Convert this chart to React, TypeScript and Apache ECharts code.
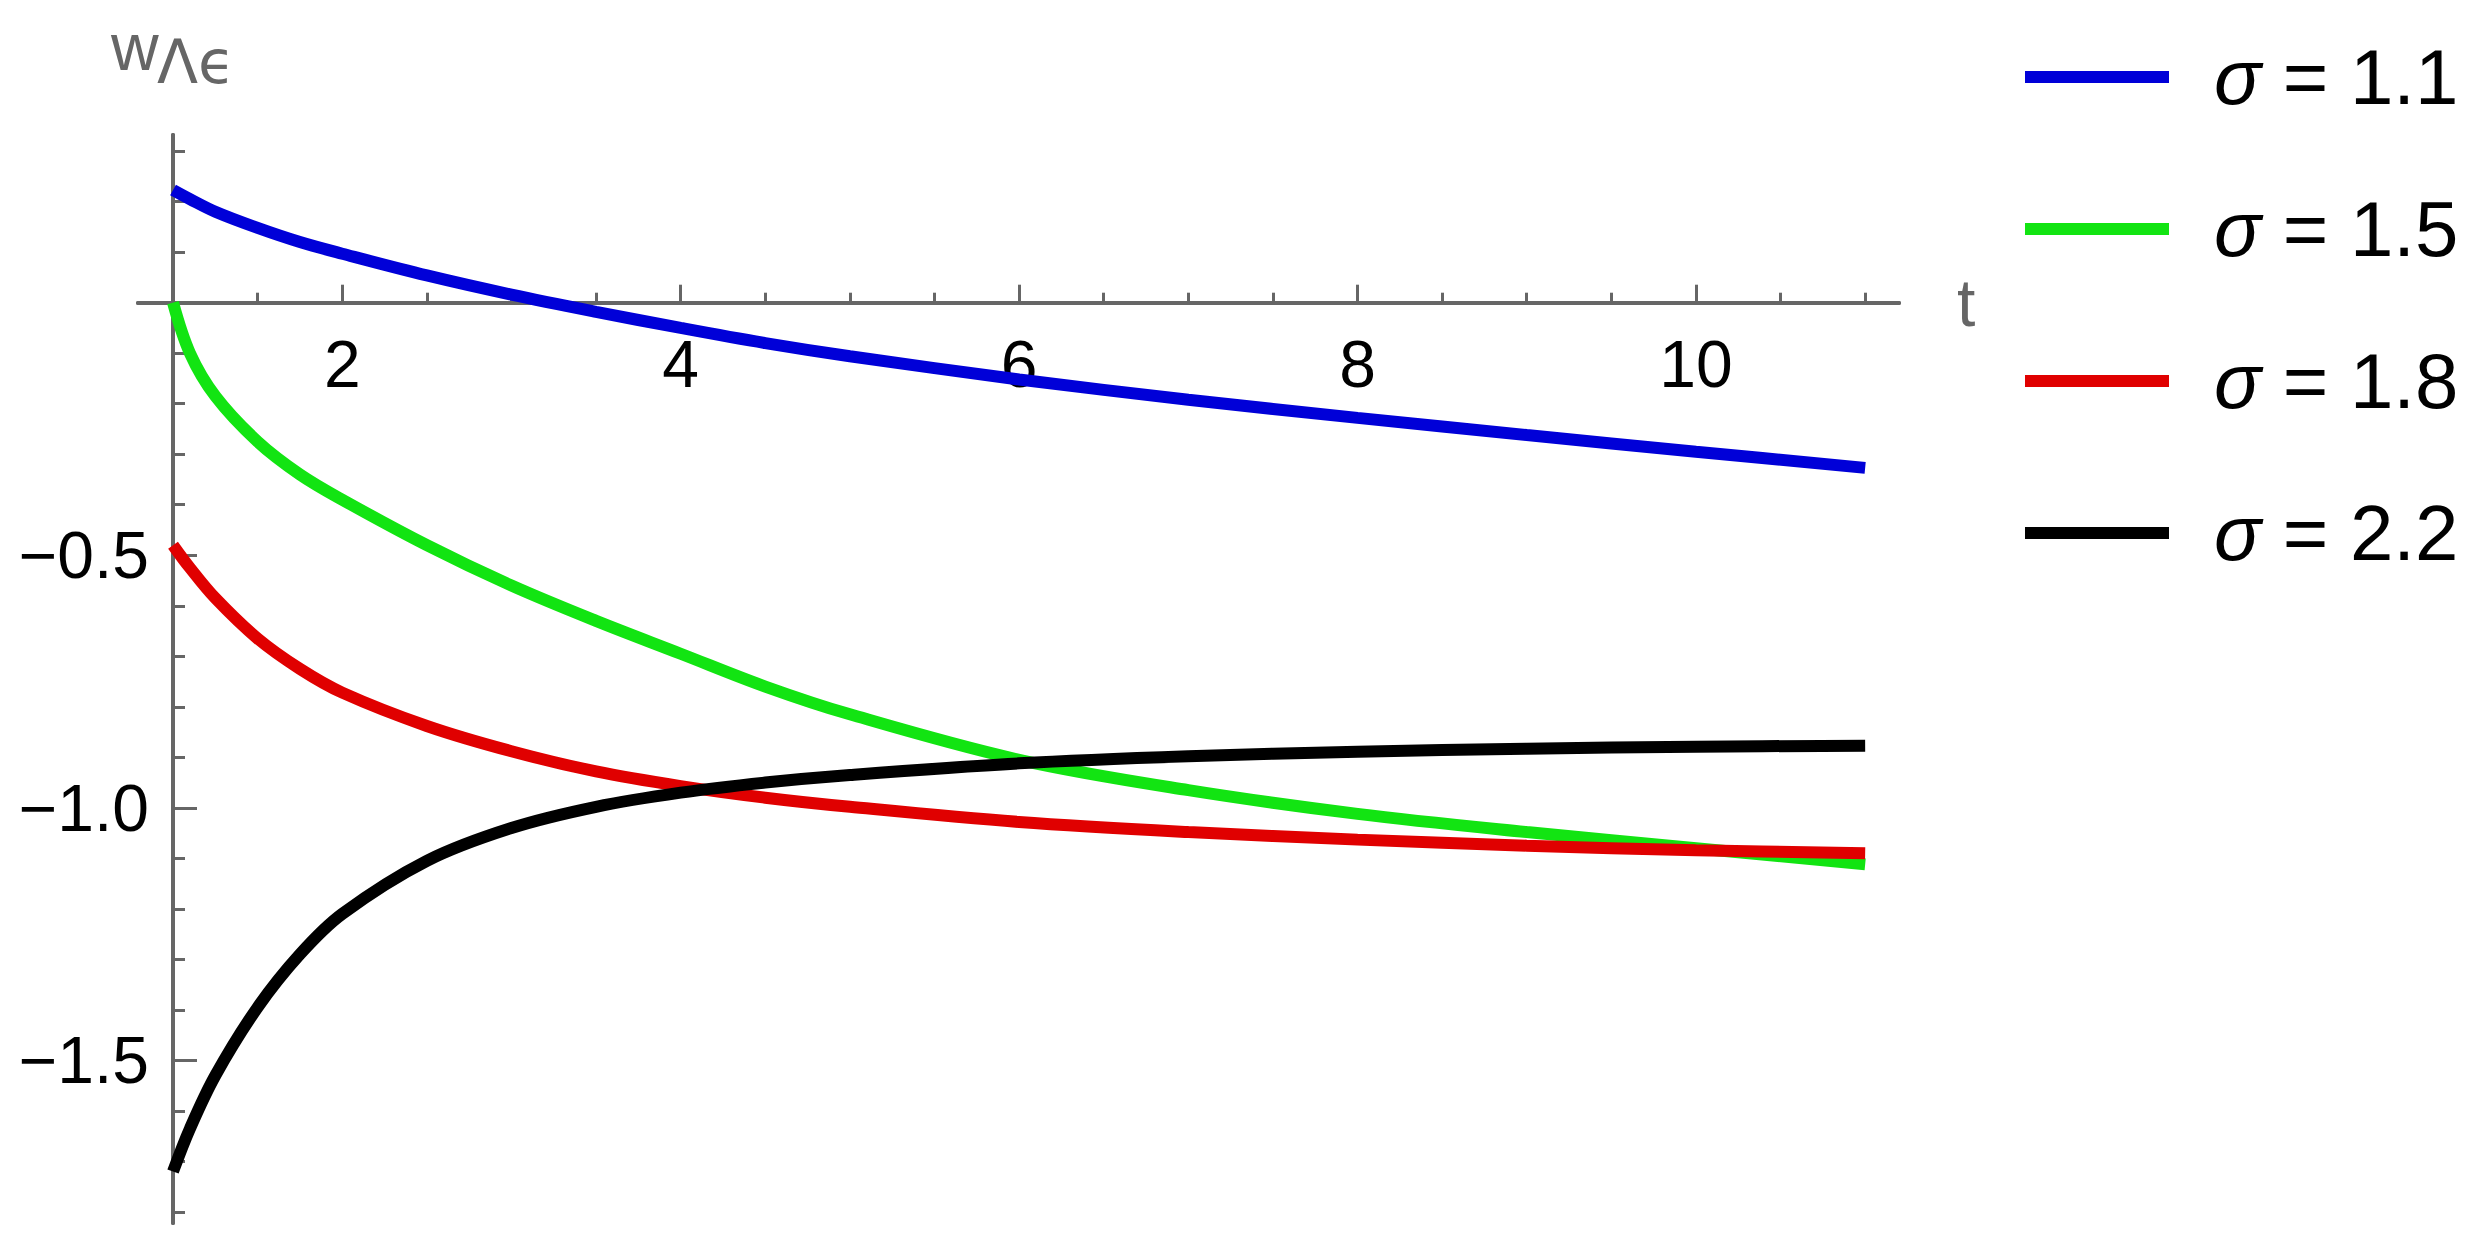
import React, { useEffect, useRef } from "react";
import * as echarts from "echarts";

const tValues = [1, 1.1, 1.25, 1.5, 1.75, 2, 2.5, 3, 3.5, 4, 4.5, 5, 6, 7, 8, 9, 10, 11];
const sigma11 = [0.223, 0.205, 0.18, 0.148, 0.12, 0.097, 0.054, 0.016, -0.018, -0.05, -0.08, -0.106, -0.152, -0.192, -0.228, -0.262, -0.295, -0.327];
const sigma15 = [0, -0.1, -0.185, -0.275, -0.34, -0.39, -0.48, -0.56, -0.63, -0.695, -0.76, -0.815, -0.905, -0.965, -1.012, -1.048, -1.08, -1.112];
const sigma18 = [-0.48, -0.525, -0.585, -0.665, -0.725, -0.772, -0.838, -0.888, -0.928, -0.957, -0.98, -0.998, -1.028, -1.048, -1.063, -1.075, -1.084, -1.09];
const sigma22 = [-1.72, -1.635, -1.53, -1.395, -1.29, -1.21, -1.105, -1.04, -0.998, -0.97, -0.95, -0.935, -0.912, -0.898, -0.889, -0.883, -0.879, -0.877];

const seriesNames = ["σ = 1.1", "σ = 1.5", "σ = 1.8", "σ = 2.2"];
const seriesValues = [sigma11, sigma15, sigma18, sigma22];
const colors = ["#0000d8", "#12e412", "#e00000", "#000000"];

const xMajorTicks = [2, 4, 6, 8, 10];
const xMinorTicks = [1.5, 2.5, 3, 3.5, 4.5, 5, 5.5, 6.5, 7, 7.5, 8.5, 9, 9.5, 10.5, 11];
const yMajorTicks = [-1.5, -1.0, -0.5];
const yMinorTicks = [-1.8, -1.7, -1.6, -1.4, -1.3, -1.2, -1.1, -0.9, -0.8, -0.7, -0.6, -0.4, -0.3, -0.2, -0.1, 0.1, 0.2, 0.3];

const X_MIN = 0.793;
const X_MAX = 11.2;
const Y_MIN = -1.822;
const Y_MAX = 0.332;

const GRID_LEFT = 138;
const GRID_TOP = 135;
const GRID_W = 1761;
const GRID_H = 1088;

const AXIS_GRAY = "#666666";
const FONT = "Liberation Sans, Arial, sans-serif";

export default function App() {
  const ref = useRef<HTMLDivElement>(null);

  useEffect(() => {
    if (!ref.current) return;
    const chart = echarts.init(ref.current, undefined, { renderer: "svg" });

    const axisLineStyle = { color: AXIS_GRAY, width: 4 };
    const tickStyle = { color: AXIS_GRAY, width: 3 };
    // the x axis crosses the y axis at w = 0; the y axis crosses the x axis at t = 1
    const xAxisOffset = -GRID_H * ((0 - Y_MIN) / (Y_MAX - Y_MIN));
    const yAxisOffset = -GRID_W * ((1 - X_MIN) / (X_MAX - X_MIN));

    const option: any = {
      animation: false,
      backgroundColor: "#ffffff",
      color: colors,
      grid: {
        left: GRID_LEFT,
        top: GRID_TOP,
        width: GRID_W,
        height: GRID_H,
        containLabel: false,
        outerBoundsMode: "none",
      },
      xAxis: [
        {
          type: "value",
          min: X_MIN,
          max: X_MAX,
          position: "bottom",
          offset: xAxisOffset,
          axisLine: { show: true, onZero: false, lineStyle: axisLineStyle },
          axisTick: { show: true, inside: true, length: 18, customValues: xMajorTicks, lineStyle: tickStyle },
          axisLabel: {
            show: true,
            customValues: xMajorTicks,
            color: "#000",
            fontSize: 66,
            fontFamily: FONT,
            margin: 28,
            formatter: (v: number) => String(v),
          },
          splitLine: { show: false },
          name: "t",
          nameLocation: "end",
          nameGap: 58,
          nameTextStyle: { color: AXIS_GRAY, fontSize: 66, fontFamily: FONT, verticalAlign: "middle" },
        },
        {
          type: "value",
          min: X_MIN,
          max: X_MAX,
          position: "bottom",
          offset: xAxisOffset,
          axisLine: { show: true, onZero: false, lineStyle: axisLineStyle },
          axisTick: { show: true, inside: true, length: 10, customValues: xMinorTicks, lineStyle: tickStyle },
          axisLabel: { show: false },
          splitLine: { show: false },
        },
      ],
      yAxis: [
        {
          type: "value",
          min: Y_MIN,
          max: Y_MAX,
          position: "left",
          offset: yAxisOffset,
          axisLine: { show: true, onZero: false, lineStyle: axisLineStyle },
          axisTick: { show: true, inside: true, length: 24, customValues: yMajorTicks, lineStyle: tickStyle },
          axisLabel: {
            show: true,
            customValues: yMajorTicks,
            color: "#000",
            fontSize: 66,
            fontFamily: FONT,
            margin: 24,
            formatter: (v: number) => v.toFixed(1).replace("-", "\u2212"),
          },
          splitLine: { show: false },
        },
        {
          type: "value",
          min: Y_MIN,
          max: Y_MAX,
          position: "left",
          offset: yAxisOffset,
          axisLine: { show: true, onZero: false, lineStyle: axisLineStyle },
          axisTick: { show: true, inside: true, length: 12, customValues: yMinorTicks, lineStyle: tickStyle },
          axisLabel: { show: false },
          splitLine: { show: false },
        },
      ],
      legend: {
        orient: "vertical",
        left: 2020,
        top: 33,
        itemWidth: 144,
        itemHeight: 12,
        itemGap: 74,
        icon: "rect",
        data: seriesNames,
        formatter: (name: string) => "{g|\u00a0}{i|σ}{n|" + name.slice(1) + "}",
        textStyle: {
          color: "#000",
          fontSize: 78,
          fontFamily: FONT,
          rich: {
            g: { width: 40, fontSize: 78 },
            i: { fontSize: 78, fontStyle: "italic", fontFamily: FONT, color: "#000" },
            n: { fontSize: 78, fontFamily: FONT, color: "#000" },
          },
        },
      },
      graphic: [
        {
          type: "text",
          left: 111,
          top: 14,
          style: { text: "w", fontSize: 66, fill: AXIS_GRAY, fontFamily: FONT },
        },
        {
          type: "text",
          left: 157,
          top: 32,
          style: { text: "Λϵ", fontSize: 60, fill: AXIS_GRAY, fontFamily: "DejaVu Sans, Liberation Sans, sans-serif" },
        },
      ],
      series: seriesNames.map((name, i) => ({
        name,
        type: "line",
        xAxisIndex: 0,
        yAxisIndex: 0,
        data: tValues.map((t, k) => [t, seriesValues[i][k]]),
        smooth: 0.35,
        symbol: "none",
        lineStyle: { width: 12, color: colors[i] },
        itemStyle: { color: colors[i] },
        z: 3,
      })),
    };

    chart.setOption(option);
    return () => chart.dispose();
  }, []);

  return (
    <div
      ref={ref}
      style={{ position: "fixed", left: 0, top: 0, width: 2490, height: 1245, background: "#fff" }}
    />
  );
}
